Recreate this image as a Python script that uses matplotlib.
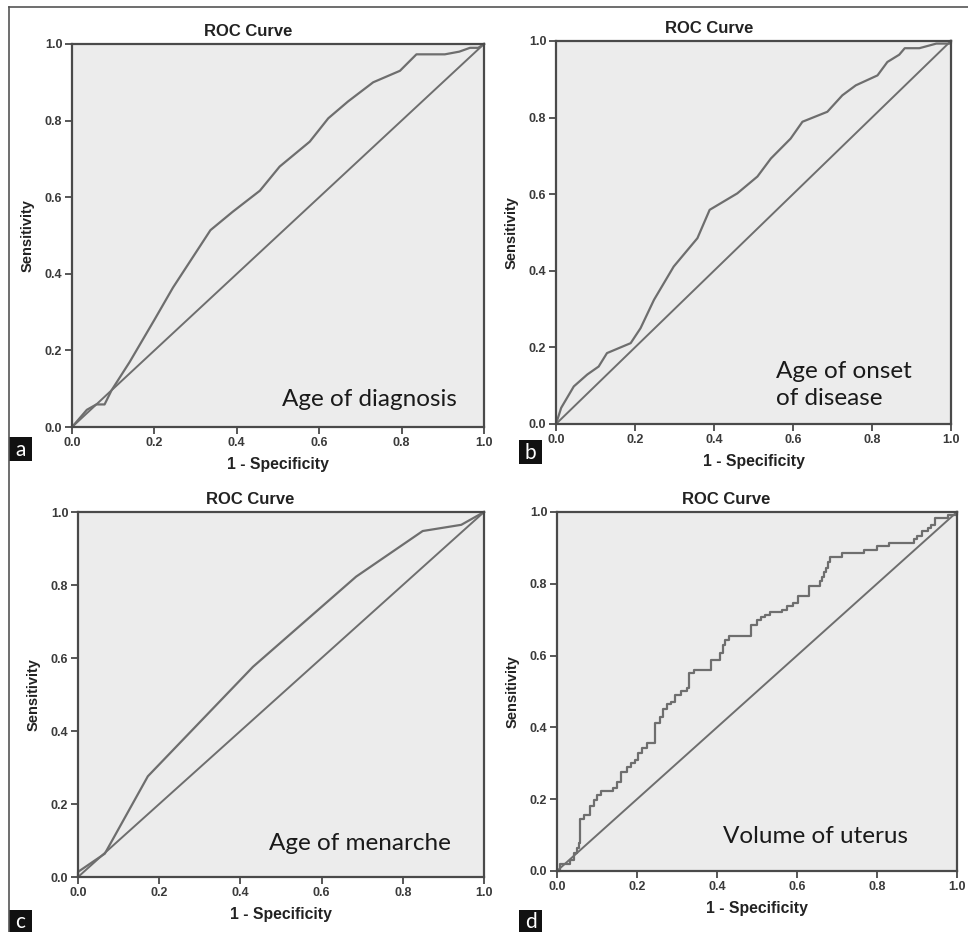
import matplotlib
matplotlib.use('Agg')
import matplotlib.pyplot as plt
from matplotlib.patches import Rectangle
from matplotlib.lines import Line2D

# ROC curve points (1 - specificity, sensitivity)
fpr_diagnosis = [0.0, 0.036, 0.059, 0.079, 0.096, 0.14, 0.2, 0.245, 0.336, 0.39, 0.456, 0.504,
                 0.577, 0.622, 0.67, 0.731, 0.796, 0.836, 0.905, 0.94, 0.966, 0.986, 1.0]
tpr_diagnosis = [0.0, 0.045, 0.059, 0.059, 0.096, 0.17, 0.28, 0.364, 0.514, 0.562, 0.617, 0.68,
                 0.745, 0.806, 0.85, 0.90, 0.93, 0.973, 0.973, 0.98, 0.99, 0.99, 1.0]

fpr_onset = [0.0, 0.013, 0.045, 0.079, 0.108, 0.129, 0.189, 0.214, 0.248, 0.298, 0.358, 0.389,
             0.459, 0.51, 0.544, 0.594, 0.624, 0.687, 0.725, 0.759, 0.814, 0.839, 0.869, 0.883,
             0.92, 0.963, 1.0, 1.0]
tpr_onset = [0.0, 0.042, 0.098, 0.129, 0.15, 0.185, 0.211, 0.25, 0.324, 0.411, 0.485, 0.559,
             0.602, 0.646, 0.693, 0.745, 0.789, 0.815, 0.858, 0.884, 0.91, 0.945, 0.964, 0.981,
             0.981, 0.993, 0.993, 1.0]

fpr_menarche = [0.0, 0.0, 0.066, 0.172, 0.431, 0.685, 0.849, 0.944, 1.0]
tpr_menarche = [0.0, 0.014, 0.064, 0.276, 0.576, 0.823, 0.948, 0.965, 1.0]

# step curve for uterus volume: x where each jump happens, new level
fpr_uterus = [0.0, 0.008, 0.033, 0.043, 0.05, 0.054, 0.058, 0.068, 0.083, 0.093, 0.1, 0.111,
              0.141, 0.149, 0.16, 0.175, 0.185, 0.195, 0.202, 0.212, 0.225, 0.245, 0.258,
              0.265, 0.275, 0.285, 0.295, 0.31, 0.325, 0.331, 0.342, 0.385, 0.408, 0.415,
              0.42, 0.43, 0.485, 0.5, 0.51, 0.52, 0.533, 0.563, 0.575, 0.59, 0.603, 0.631,
              0.657, 0.663, 0.668, 0.673, 0.678, 0.683, 0.712, 0.767, 0.8, 0.829, 0.893,
              0.899, 0.912, 0.928, 0.935, 0.945, 0.977, 1.0]
tpr_uterus = [0.0, 0.019, 0.03, 0.05, 0.065, 0.077, 0.145, 0.156, 0.182, 0.198, 0.212, 0.223,
              0.23, 0.249, 0.277, 0.29, 0.30, 0.31, 0.328, 0.342, 0.356, 0.412, 0.43,
              0.45, 0.465, 0.472, 0.49, 0.50, 0.51, 0.551, 0.56, 0.588, 0.608, 0.63,
              0.644, 0.655, 0.686, 0.698, 0.707, 0.714, 0.72, 0.728, 0.737, 0.746, 0.765, 0.793,
              0.808, 0.82, 0.834, 0.845, 0.86, 0.875, 0.886, 0.895, 0.904, 0.914, 0.925,
              0.934, 0.946, 0.955, 0.965, 0.983, 0.992, 1.0]

panel_letters = ['a', 'b', 'c', 'd']
panel_notes = ['Age of diagnosis', 'Age of onset\nof disease', 'Age of menarche', 'Volume of uterus']
ticks = [0.0, 0.2, 0.4, 0.6, 0.8, 1.0]
tick_labels = ['0.0', '0.2', '0.4', '0.6', '0.8', '1.0']

line_col = '#6e6e6e'
spine_col = '#4a4a4a'

fig = plt.figure(figsize=(9.68, 9.32), dpi=100)

# axes rectangles in figure fractions
positions = [[0.0744, 0.5418, 0.4256, 0.411],
             [0.5744, 0.5451, 0.408, 0.411],
             [0.0806, 0.0590, 0.4194, 0.3916],
             [0.5754, 0.0655, 0.4132, 0.3852]]
title_x = [0.427, 0.387, 0.424, 0.4225]
note_pos = [(0.51, 0.045), (0.557, 0.04), (0.47, 0.062), (0.415, 0.068)]
letter_box = [(9, 437, 24), (519, 440, 24), (9, 910, 22), (519, 910, 22)]

curves = [(fpr_diagnosis, tpr_diagnosis, 'default'),
          (fpr_onset, tpr_onset, 'default'),
          (fpr_menarche, tpr_menarche, 'default'),
          (fpr_uterus, tpr_uterus, 'steps-post')]

for i in range(4):
    ax = fig.add_axes(positions[i])
    ax.set_facecolor('#ececec')
    x, y, ds = curves[i]
    ax.plot([0, 1], [0, 1], color=line_col, lw=1.4, clip_on=False)
    ax.plot(x, y, color=line_col, lw=1.6, drawstyle=ds, clip_on=False)
    ax.set_xlim(0, 1)
    ax.set_ylim(0, 1)
    ax.set_xticks(ticks)
    ax.set_yticks(ticks)
    ax.set_xticklabels(tick_labels)
    ax.set_yticklabels(tick_labels)
    ax.tick_params(direction='out', length=5, width=1.3, color=spine_col,
                   labelsize=9, labelcolor='#3a3a3a', pad=2)
    for lab in ax.get_xticklabels() + ax.get_yticklabels():
        lab.set_family('Liberation Sans')
        lab.set_fontweight('bold')
    for s in ax.spines.values():
        s.set_color(spine_col)
        s.set_linewidth(1.6)
    ax.set_title('ROC Curve', x=title_x[i], fontsize=12, fontweight='bold',
                 family='Liberation Sans', color='#222222', pad=6)
    ax.set_xlabel('1 - Specificity', fontsize=11.3, fontweight='bold',
                  family='Liberation Sans', color='#222222', labelpad=6)
    ax.set_ylabel('Sensitivity', fontsize=10.5, fontweight='bold',
                  family='Liberation Sans', color='#222222', labelpad=7)
    ax.text(note_pos[i][0], note_pos[i][1], panel_notes[i], transform=ax.transAxes,
            fontsize=17.5, family='Lato', color='#1a1a1a', ha='left', va='bottom',
            linespacing=1.35)

    # black letter box
    lx, ly, lh = letter_box[i]
    fig.add_artist(Rectangle((lx / 968, 1 - (ly + lh) / 932), 23 / 968, lh / 932,
                             transform=fig.transFigure, facecolor='#111111', edgecolor='none'))
    fig.text((lx + 11.5) / 968, 1 - (ly + lh / 2 + 1) / 932, panel_letters[i], color='white',
             fontsize=15, family='Lato', ha='center', va='center')

# outer frame lines (top and left)
fig.add_artist(Line2D([9 / 968, 1], [1 - 7 / 932, 1 - 7 / 932], transform=fig.transFigure,
                      color='#555555', lw=1.2))
fig.add_artist(Line2D([9 / 968, 9 / 968], [0, 1 - 7 / 932], transform=fig.transFigure,
                      color='#555555', lw=1.2))

plt.savefig('out.png', dpi=100)
